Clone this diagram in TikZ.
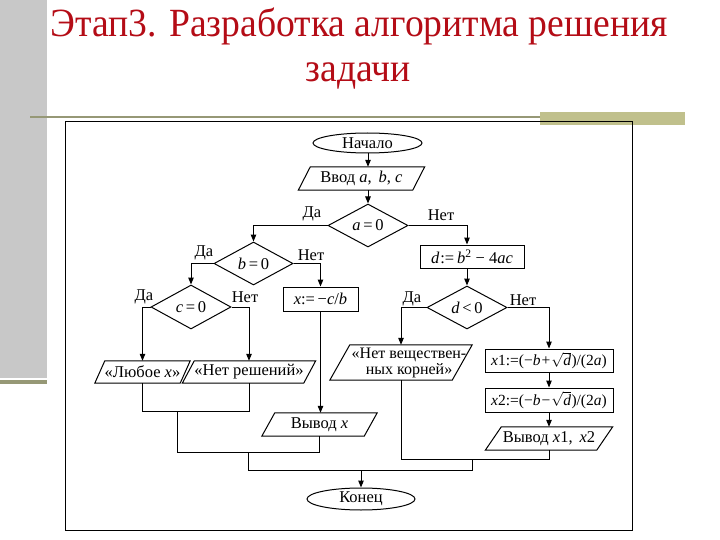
\documentclass[tikz,border=0pt]{standalone}
\usepackage{fontspec}
\setmainfont{Liberation Serif}
\newfontfamily\titlefont{Liberation Serif}
\usetikzlibrary{shapes.geometric,arrows.meta}
\definecolor{titlered}{RGB}{180,12,22}
\definecolor{sidegray}{RGB}{200,200,200}
\definecolor{olive}{RGB}{150,152,118}
\definecolor{khaki}{RGB}{192,192,140}
\newcommand\fsz{\fontsize{16.5}{17}\selectfont}
\newcommand\drawpara[2]{\draw[flow] ([xshift=-#2pt]#1.south west) -- ([xshift=#2pt]#1.north west) -- ([xshift=#2pt]#1.north east) -- ([xshift=-#2pt]#1.south east) -- cycle;}
\tikzset{
  every node/.style={font=\fsz, inner sep=0pt},
  flow/.style={draw, line width=1pt},
  term/.style={flow, ellipse},
  iobox/.style={rectangle},
  proc/.style={flow, rectangle},
  cond/.style={flow, diamond},
  conn/.style={line width=1pt},
  arr/.style={conn, -{Triangle[length=7pt,width=5.5pt]}},
  lbl/.style={font=\fsz}
}
\begin{document}
\begin{tikzpicture}[x=1pt,y=-1pt]
\useasboundingbox (0,0) rectangle (720,540);
\fill[white] (0,0) rectangle (720,540);
% slide decoration
\fill[sidegray] (0,0) rectangle (47,378);
\fill[olive] (0,380) rectangle (47,384);
\draw[olive, line width=2pt] (30,117.5) -- (540,117.5);
\fill[khaki] (540,112) rectangle (685,125);
% title
\node[text=titlered, font=\titlefont\fontsize{40}{40}\selectfont, anchor=base] (t1) at (359,37) {\scalebox{0.94}[1]{Этап3. Разработка алгоритма решения}};
\node[text=titlered, font=\titlefont\fontsize{40}{40}\selectfont, anchor=base] (t2) at (358,82) {\scalebox{0.94}[1]{задачи}};
% frame
\draw[line width=1pt] (65,122) rectangle (632,530);
% nodes
\node[term, minimum width=109pt, minimum height=20pt] (st) at (367.5,143) {Начало};
\node[iobox, minimum width=114pt, minimum height=23pt] (in) at (361.5,178.5) {Ввод \textit{a},\, \textit{b}, \textit{c}};
\drawpara{in}{6}
\node[cond, minimum width=80pt, minimum height=43pt] (a0) at (368,225.5) {\textit{a}\,=\,0};
\node[proc, minimum width=104pt, minimum height=23pt] (db) at (472,256.5) {\textit{d}\kern1pt:=\,\textit{b}\textsuperscript{2} − 4\textit{ac}};
\node[cond, minimum width=80pt, minimum height=43pt] (dd) at (467,307.5) {\textit{d}\,<\,0};
\node[cond, minimum width=79pt, minimum height=43pt] (b0) at (253.5,263.5) {\textit{b}\,=\,0};
\node[proc, minimum width=75pt, minimum height=24pt] (cb) at (320.5,299) {\textit{x}:=\,−\textit{c}/\textit{b}};
\node[cond, minimum width=80pt, minimum height=44pt] (c0) at (191,307) {\textit{c}\,=\,0};
\node[iobox, minimum width=85pt, minimum height=22pt] (lx) at (142.5,372) {«Любое \textit{x}»};
\drawpara{lx}{5}
\node[iobox, minimum width=121pt, minimum height=22pt] (nr) at (249,372) {«Нет решений»};
\drawpara{nr}{6}
\node[iobox, minimum width=122pt, minimum height=35pt] (nv) at (401,362.5) {};
\drawpara{nv}{10}
\node[align=center, font=\fontsize{16}{16}\selectfont] (nvt) at (409,362.5) {«Нет веществен-\\ных корней»};
\node[proc, minimum width=128pt, minimum height=23pt, font=\fontsize{15.5}{16}\selectfont] (x1) at (549,360.5) {\textit{x}1:=(−\textit{b}\kern1pt+\kern1pt$\sqrt{\mbox{\itshape d}}$\kern0.5pt)/(2\textit{a})};
\node[proc, minimum width=128pt, minimum height=24pt, font=\fontsize{15.5}{16}\selectfont] (x2) at (549,400) {\textit{x}2:=(−\textit{b}\kern1pt−\kern1pt$\sqrt{\mbox{\itshape d}}$\kern0.5pt)/(2\textit{a})};
\node[iobox, minimum width=102pt, minimum height=23pt] (vx) at (319.5,424.5) {Вывод \textit{x}};
\drawpara{vx}{6.5}
\node[iobox, minimum width=111pt, minimum height=23pt] (v2) at (549,438.5) {Вывод \textit{x}1,\, \textit{x}2};
\drawpara{v2}{8}
\node[term, minimum width=108pt, minimum height=22pt] (en) at (361,499) {Конец};
% labels
\node[lbl] (la1) at (312,214) {Да};
\node[lbl] (la2) at (441,215) {Нет};
\node[lbl] (lb1) at (204,253) {Да};
\node[lbl] (lb2) at (311,255) {Нет};
\node[lbl] (lc1) at (144,297) {Да};
\node[lbl] (lc2) at (245,297) {Нет};
\node[lbl] (ld1) at (412,299) {Да};
\node[lbl] (ld2) at (523,300) {Нет};
% junctions
\coordinate (j1) at (177,411);
\coordinate (j2) at (248,452);
\coordinate (j4) at (472,470);
\coordinate (j5) at (472,459);
% connectors
\draw[arr] (st.south -| a0.north) -- (in.north -| a0.north);
\draw[arr] (in.south -| a0.north) -- (a0.north);
\draw[arr] (a0.west) -| (b0.north);
\draw[arr] (a0.east) -| (db.north -| dd.north);
\draw[arr] (db.south -| dd.north) -- (dd.north);
\draw[arr] (b0.west) -| (c0.north);
\draw[arr] (b0.east) -| (cb.north);
\draw[arr] (c0.west) -| (lx.north);
\draw[arr] (c0.east) -| (nr.north);
\draw[arr] (cb.south) -- (cb.south |- vx.north);
\draw[arr] (dd.west) -| (nv.north);
\draw[arr] (dd.east) -| (x1.north);
\draw[arr] (x1.south) -- (x2.north);
\draw[arr] (x2.south) -- (v2.north);
\draw[conn] (lx.south) |- (nr.south |- j1) -- (nr.south);
\draw[conn] (j1) |- (vx.south |- j2) -- (vx.south);
\draw[conn] (nv.south) |- (v2.south |- j5) -- (v2.south);
\draw[conn] (j2) |- (j4) -- (j5);
\draw[arr] (en.north |- j4) -- (en.north);
\end{tikzpicture}
\end{document}
